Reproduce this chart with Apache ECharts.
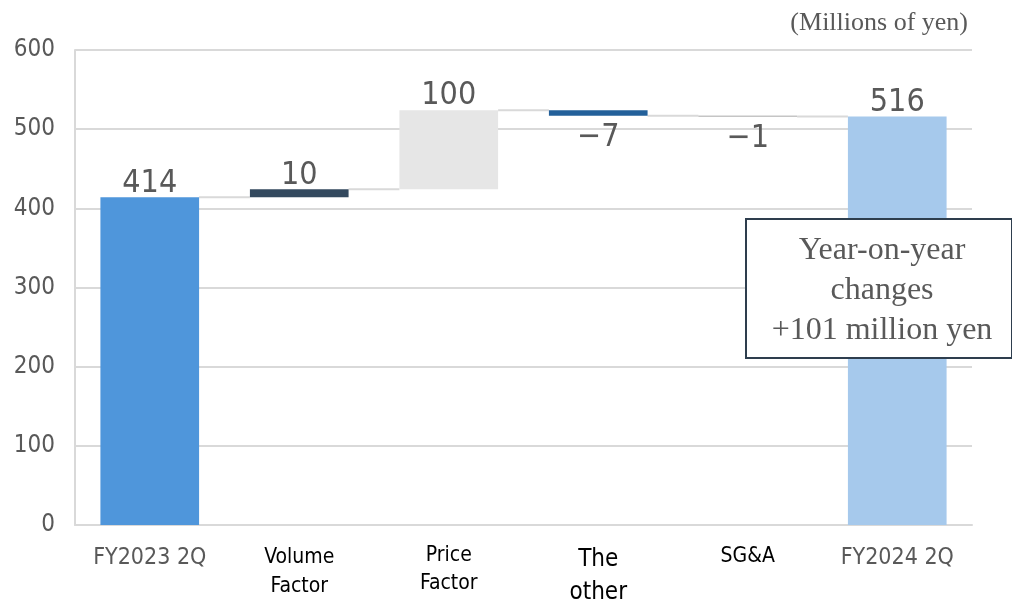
<!DOCTYPE html>
<html>
<head>
<meta charset="utf-8">
<script src="https://cdn.jsdelivr.net/npm/echarts@6/dist/echarts.min.js"></script>
<style>
  html, body { margin: 0; padding: 0; background: #ffffff; overflow: hidden; }
  #chart { width: 1012px; height: 601px; }
</style>
</head>
<body>
<div id="chart"></div>
<script>
// Operating profit bridge, FY2023 2Q -> FY2024 2Q (millions of yen)
const categories = ['FY2023 2Q', 'Volume\nFactor', 'Price\nFactor', 'The\nother', 'SG&A', 'FY2024 2Q'];
// first and last entries are totals, the rest are changes
const values = [414, 10, 100, -7, -1, 516];
const isTotal = [true, false, false, false, false, true];
const barColors = ['#4F96DB', '#33495E', '#E6E6E6', '#23609A', '#8C8C8C', '#A6C9EC'];
const yTicks = [0, 100, 200, 300, 400, 500, 600];
const unitText = '(Millions of yen)';
const noteLines = ['Year-on-year', 'changes', '+101 million yen'];

const NARROW = "'DejaVu Sans Condensed', 'Liberation Sans Narrow', sans-serif";
const SERIF = "'Liberation Serif', 'DejaVu Serif', serif";

// Build invisible bases, visible bar heights and running levels
const base = [], visible = [], levels = [];
let running = 0;
values.forEach((v, i) => {
  if (isTotal[i]) {
    base.push(0);
    visible.push(v);
    running = v;
  } else {
    const next = running + v;
    base.push(Math.min(running, next));
    visible.push(Math.abs(v));
    running = next;
  }
  levels.push(running);
});

const fmt = v => (v < 0 ? '\u2212' + Math.abs(v) : String(v));

const chart = echarts.init(document.getElementById('chart'), null, { renderer: 'canvas' });

const visibleData = visible.map((h, i) => ({
  value: h,
  itemStyle: { color: barColors[i] },
  label: {
    show: true,
    position: values[i] < 0 ? 'bottom' : 'top',
    distance: values[i] < 0 ? 6 : -2,
    formatter: () => fmt(values[i]),
    fontFamily: NARROW,
    fontSize: 32,
    color: '#595959'
  }
}));

// Connector segments between consecutive bars at the running level
const connectorData = levels.slice(0, -1).map((lv, i) => [i, lv]);

// Per-category axis label styles
const axisLabelStyles = [
  { color: '#595959', fontSize: 23, padding: [10, 0, 0, 0] },
  { color: '#000000', fontSize: 21, lineHeight: 29, padding: [6, 0, 0, 0] },
  { color: '#000000', fontSize: 21, lineHeight: 28, padding: [5, 0, 0, 0] },
  { color: '#000000', fontSize: 24, lineHeight: 33, padding: [6, 0, 0, 0] },
  { color: '#000000', fontSize: 21, padding: [9, 0, 0, 0] },
  { color: '#595959', fontSize: 23, padding: [10, 0, 0, 0] }
];
const axisData = categories.map((c, i) => ({ value: c, textStyle: axisLabelStyles[i] }));

chart.setOption({
  animation: false,
  backgroundColor: '#ffffff',
  grid: {
    left: 75, width: 897, top: 50, height: 475,
    containLabel: false,
    outerBoundsMode: 'none'
  },
  xAxis: {
    type: 'category',
    data: axisData,
    axisLine: { show: true, lineStyle: { color: '#D9D9D9', width: 2 } },
    axisTick: { show: false },
    axisLabel: {
      interval: 0,
      margin: 12,
      fontFamily: NARROW,
      verticalAlign: 'top'
    }
  },
  yAxis: {
    type: 'value',
    min: yTicks[0],
    max: yTicks[yTicks.length - 1],
    interval: 100,
    axisLine: { show: true, lineStyle: { color: '#D9D9D9', width: 2 } },
    axisTick: { show: false },
    splitLine: { show: true, lineStyle: { color: '#D9D9D9', width: 2 } },
    axisLabel: {
      margin: 20,
      fontFamily: NARROW,
      fontSize: 24,
      color: '#595959'
    }
  },
  series: [
    {
      name: 'base',
      type: 'bar',
      stack: 'bridge',
      barWidth: '66%',
      silent: true,
      itemStyle: { color: 'transparent' },
      data: base
    },
    {
      name: 'change',
      type: 'bar',
      stack: 'bridge',
      barWidth: '66%',
      data: visibleData
    },
    {
      name: 'connector',
      type: 'custom',
      silent: true,
      z: 1,
      data: connectorData,
      renderItem: function (params, api) {
        const i = api.value(0);
        const lv = api.value(1);
        const band = api.size([1, 0])[0];
        const half = band * 0.66 / 2;
        const p1 = api.coord([i, lv]);
        const p2 = api.coord([i + 1, lv]);
        return {
          type: 'line',
          shape: { x1: p1[0] + half, y1: p1[1], x2: p2[0] - half, y2: p2[1] },
          style: { stroke: '#D9D9D9', lineWidth: 2 }
        };
      }
    }
  ],
  graphic: [
    {
      type: 'text',
      right: 44,
      top: 10,
      z: 100,
      style: { text: unitText, font: '26px ' + SERIF, fill: '#595959' }
    },
    {
      type: 'group',
      left: 745,
      top: 218,
      z: 100,
      children: [
        {
          type: 'rect',
          z: 100,
          shape: { x: 0, y: 0, width: 266, height: 139 },
          style: { fill: '#ffffff', stroke: '#2E3E4E', lineWidth: 2 }
        },
        {
          type: 'text',
          z: 101,
          x: 136,
          y: 72,
          style: {
            text: noteLines.join('\n'),
            font: '32px ' + SERIF,
            lineHeight: 40,
            fill: '#595959',
            align: 'center',
            verticalAlign: 'middle'
          }
        }
      ]
    }
  ]
});
</script>
</body>
</html>
